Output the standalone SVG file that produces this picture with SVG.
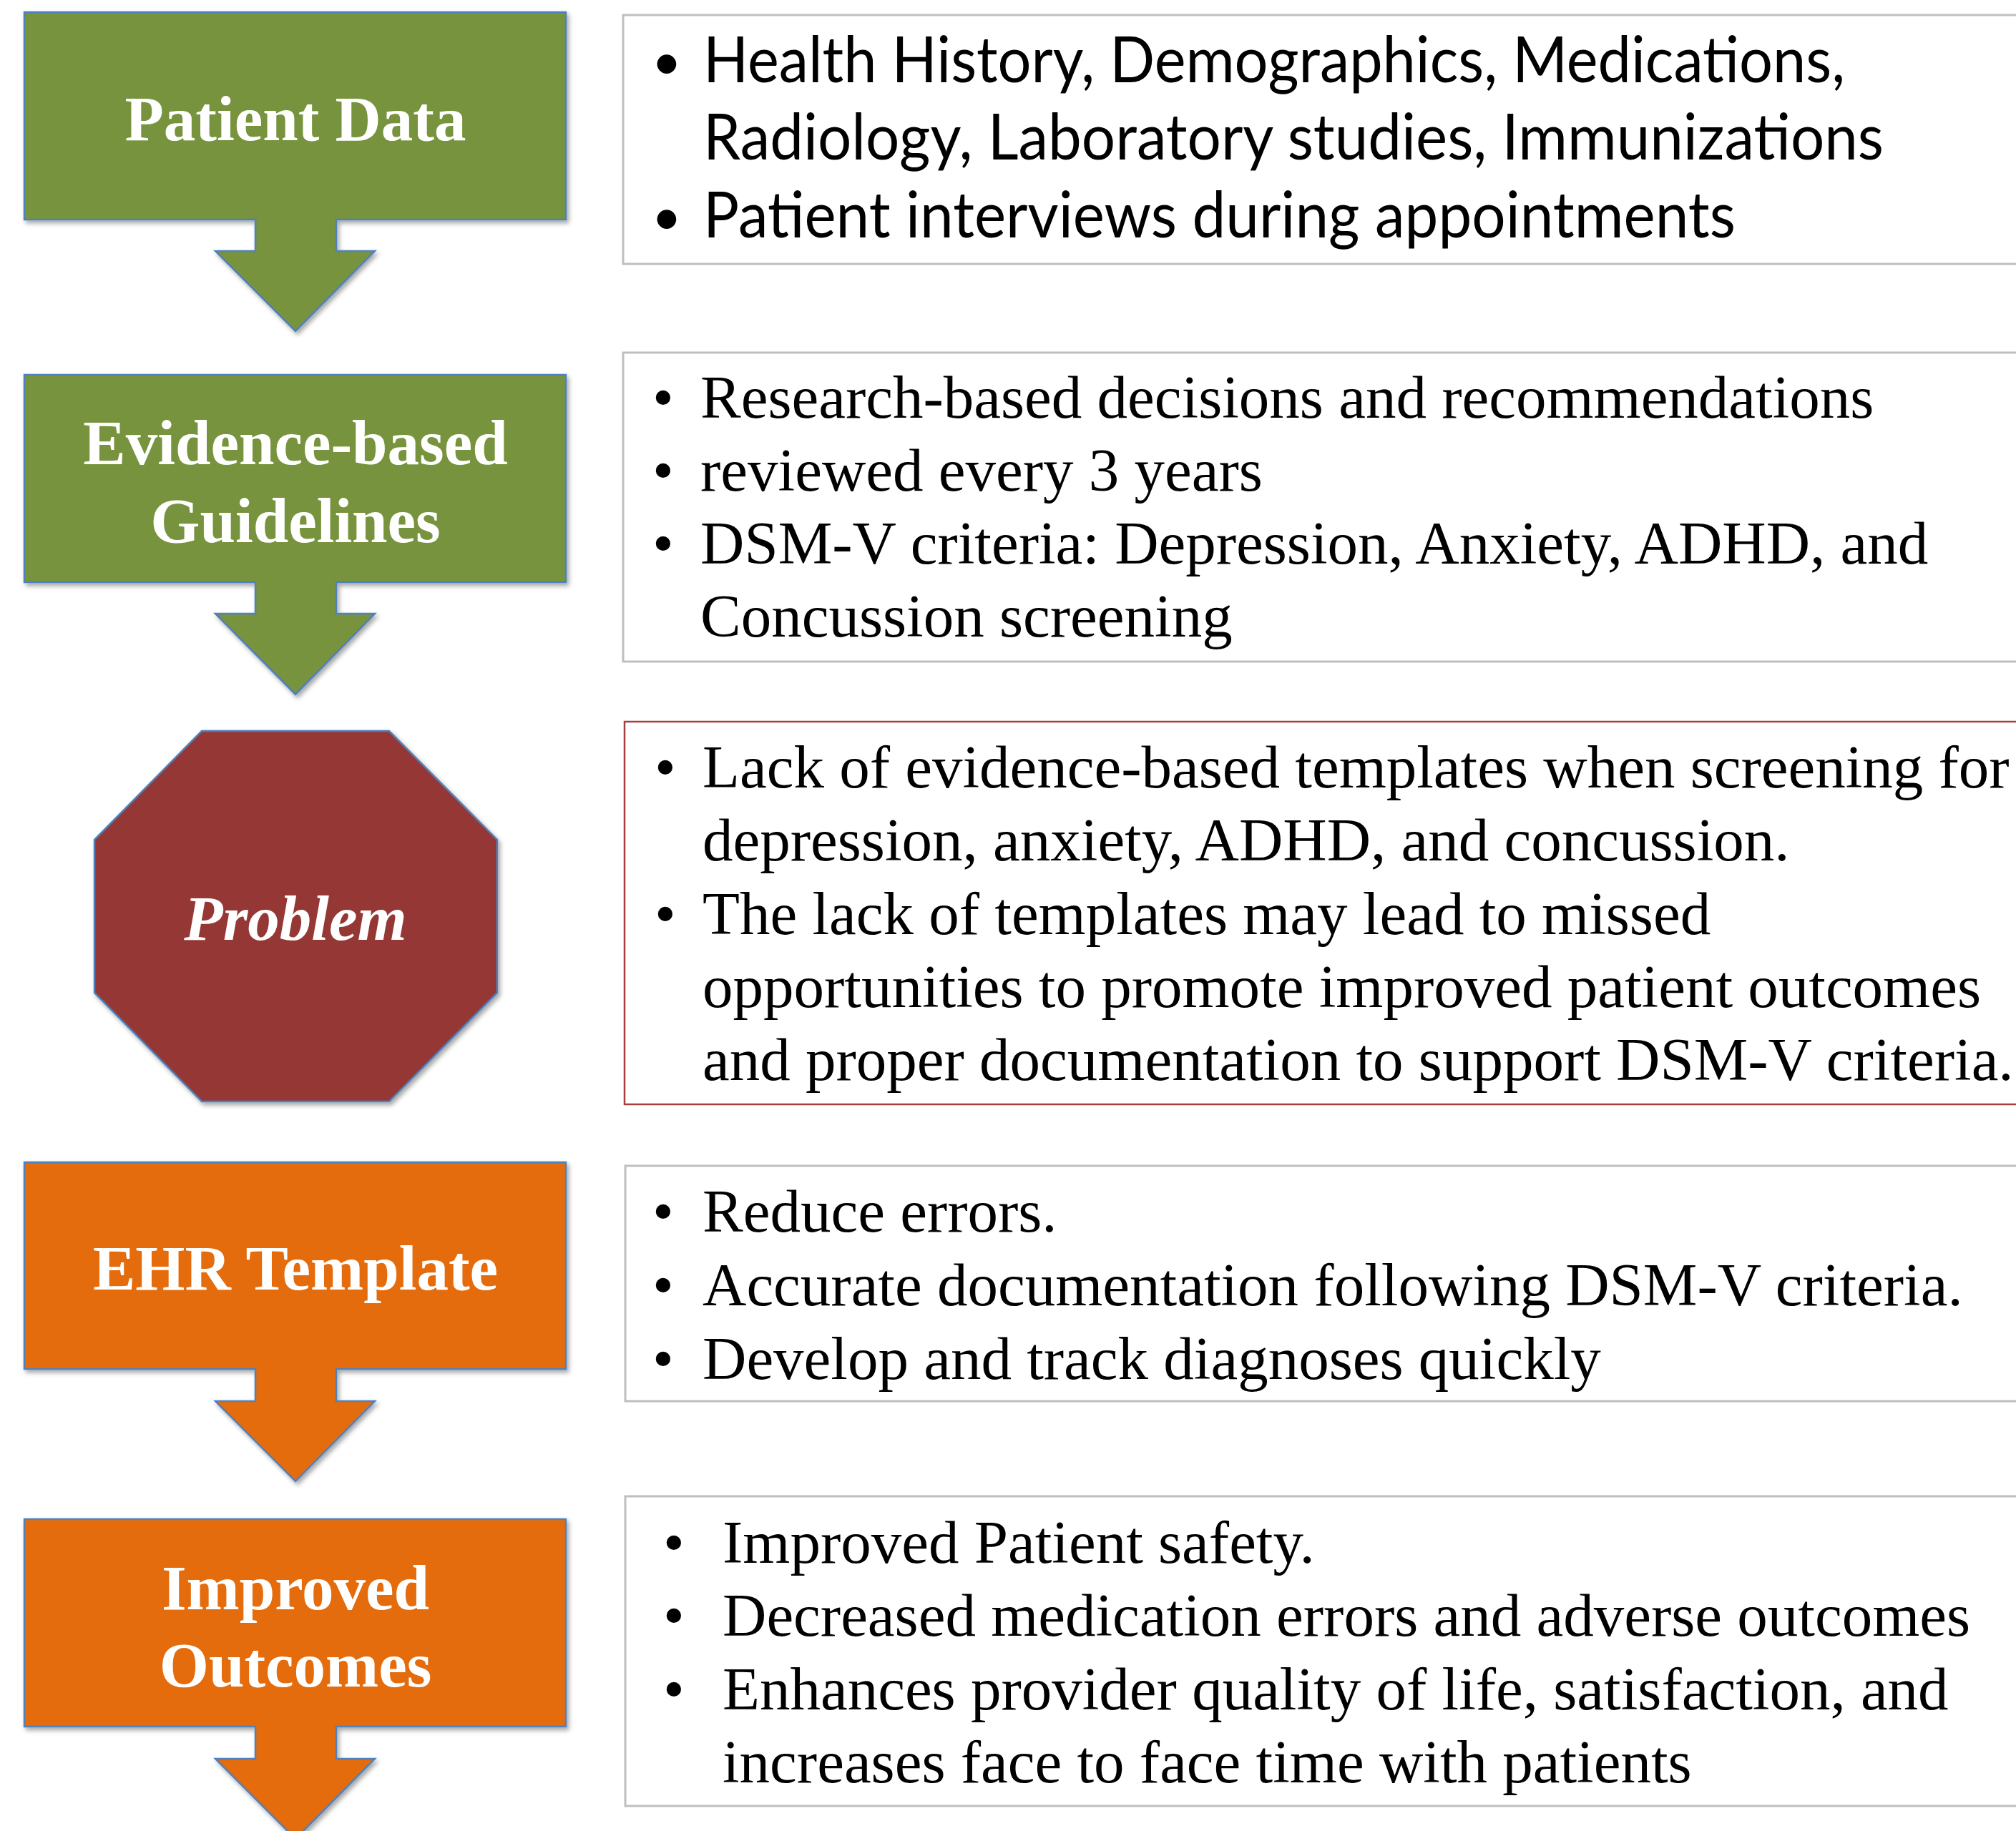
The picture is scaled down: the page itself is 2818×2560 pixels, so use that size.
<svg xmlns="http://www.w3.org/2000/svg" width="2818" height="2560" viewBox="0 0 2818 2560">
<defs>
<filter id="sh" x="-5%" y="-5%" width="115%" height="115%">
<feDropShadow dx="3" dy="4" stdDeviation="3" flood-color="#000" flood-opacity="0.35"/>
</filter>
<style>
.shape{stroke:#4f81bd;stroke-width:2.5;filter:url(#sh)}
.green{fill:#77933c}
.red{fill:#953735}
.orange{fill:#e46c0a}
.lbl{font-family:"Liberation Serif","Times New Roman",serif;font-weight:bold;font-size:89px;fill:#fff;text-anchor:middle}
.box{fill:#fff;stroke:#bfbfbf;stroke-width:3}
.rbox{fill:#fff;stroke:#a5403e;stroke-width:2.5}
.sans{font-family:Lato,"Liberation Sans",sans-serif;font-size:90px;fill:#000}
.sbul{font-family:Lato,"Liberation Sans",sans-serif;font-size:72px;fill:#000}
.serif{font-family:"Liberation Serif","Times New Roman",serif;font-size:85px;fill:#000}
</style>
</defs>
<rect width="2818" height="2560" fill="#fff"/>

<g id="connectors"></g>

<g id="patient-data">
<path class="shape green" d="M34,17 H791 V307 H470 V351 H524 L413,463 L301,351 H357 V307 H34 Z"/>
<text class="lbl" x="413" y="196">Patient Data</text>
</g>

<g id="patient-data-details">
<rect class="box" x="871" y="21" width="2100" height="348"/>
<text class="sbul" x="911" y="111">•</text>
<text class="sans" x="983" y="115" textLength="1596" lengthAdjust="spacingAndGlyphs">Health History, Demographics, Medications,</text>
<text class="sans" x="983" y="223" textLength="1650" lengthAdjust="spacingAndGlyphs">Radiology, Laboratory studies, Immunizations</text>
<text class="sbul" x="911" y="328">•</text>
<text class="sans" x="983" y="332" textLength="1443" lengthAdjust="spacingAndGlyphs">Patient interviews during appointments</text>
</g>

<g id="guidelines">
<path class="shape green" d="M34,524 H791 V814 H470 V858 H524 L413,971 L301,858 H357 V814 H34 Z"/>
<text class="lbl" x="413" y="649">Evidence-based</text>
<text class="lbl" x="413" y="758">Guidelines</text>
</g>

<g id="guidelines-details">
<rect class="box" x="871" y="493" width="2100" height="432"/>
<text class="serif" x="912" y="584">•</text>
<text class="serif" x="979" y="584">Research-based decisions and recommendations</text>
<text class="serif" x="912" y="686">•</text>
<text class="serif" x="979" y="686">reviewed every 3 years</text>
<text class="serif" x="912" y="788">•</text>
<text class="serif" x="979" y="788">DSM-V criteria: Depression, Anxiety, ADHD, and</text>
<text class="serif" x="979" y="890">Concussion screening</text>
</g>

<g id="problem">
<path class="shape red" d="M282,1022 H544 L695,1174 V1388 L544,1540 H282 L132,1388 V1174 Z"/>
<text class="lbl" x="413" y="1314" font-style="italic">Problem</text>
</g>

<g id="problem-details">
<rect class="rbox" x="873" y="1009" width="2100" height="535"/>
<text class="serif" x="915" y="1101">•</text>
<text class="serif" x="982" y="1101">Lack of evidence-based templates when screening for</text>
<text class="serif" x="982" y="1203">depression, anxiety, ADHD, and concussion.</text>
<text class="serif" x="915" y="1306">•</text>
<text class="serif" x="982" y="1306">The lack of templates may lead to missed</text>
<text class="serif" x="982" y="1408">opportunities to promote improved patient outcomes</text>
<text class="serif" x="982" y="1510">and proper documentation to support DSM-V criteria.</text>
</g>

<g id="ehr-template">
<path class="shape orange" d="M34,1625 H791 V1914 H470 V1959 H524 L413,2071 L301,1959 H357 V1914 H34 Z"/>
<text class="lbl" x="413" y="1803">EHR Template</text>
</g>

<g id="ehr-template-details">
<rect class="box" x="874" y="1630" width="2100" height="329"/>
<text class="serif" x="912" y="1722">•</text>
<text class="serif" x="982" y="1722">Reduce errors.</text>
<text class="serif" x="912" y="1825">•</text>
<text class="serif" x="982" y="1825">Accurate documentation following DSM-V criteria.</text>
<text class="serif" x="912" y="1928">•</text>
<text class="serif" x="982" y="1928">Develop and track diagnoses quickly</text>
</g>

<g id="improved-outcomes">
<path class="shape orange" d="M34,2124 H791 V2414 H470 V2459 H524 L413,2571 L301,2459 H357 V2414 H34 Z"/>
<text class="lbl" x="413" y="2250">Improved</text>
<text class="lbl" x="413" y="2358">Outcomes</text>
</g>

<g id="improved-outcomes-details">
<rect class="box" x="874" y="2092" width="2100" height="433"/>
<text class="serif" x="927" y="2185">•</text>
<text class="serif" x="1010" y="2185">Improved Patient safety.</text>
<text class="serif" x="927" y="2287">•</text>
<text class="serif" x="1010" y="2287">Decreased medication errors and adverse outcomes</text>
<text class="serif" x="927" y="2390">•</text>
<text class="serif" x="1010" y="2390">Enhances provider quality of life, satisfaction, and</text>
<text class="serif" x="1010" y="2492">increases face to face time with patients</text>
</g>
</svg>
